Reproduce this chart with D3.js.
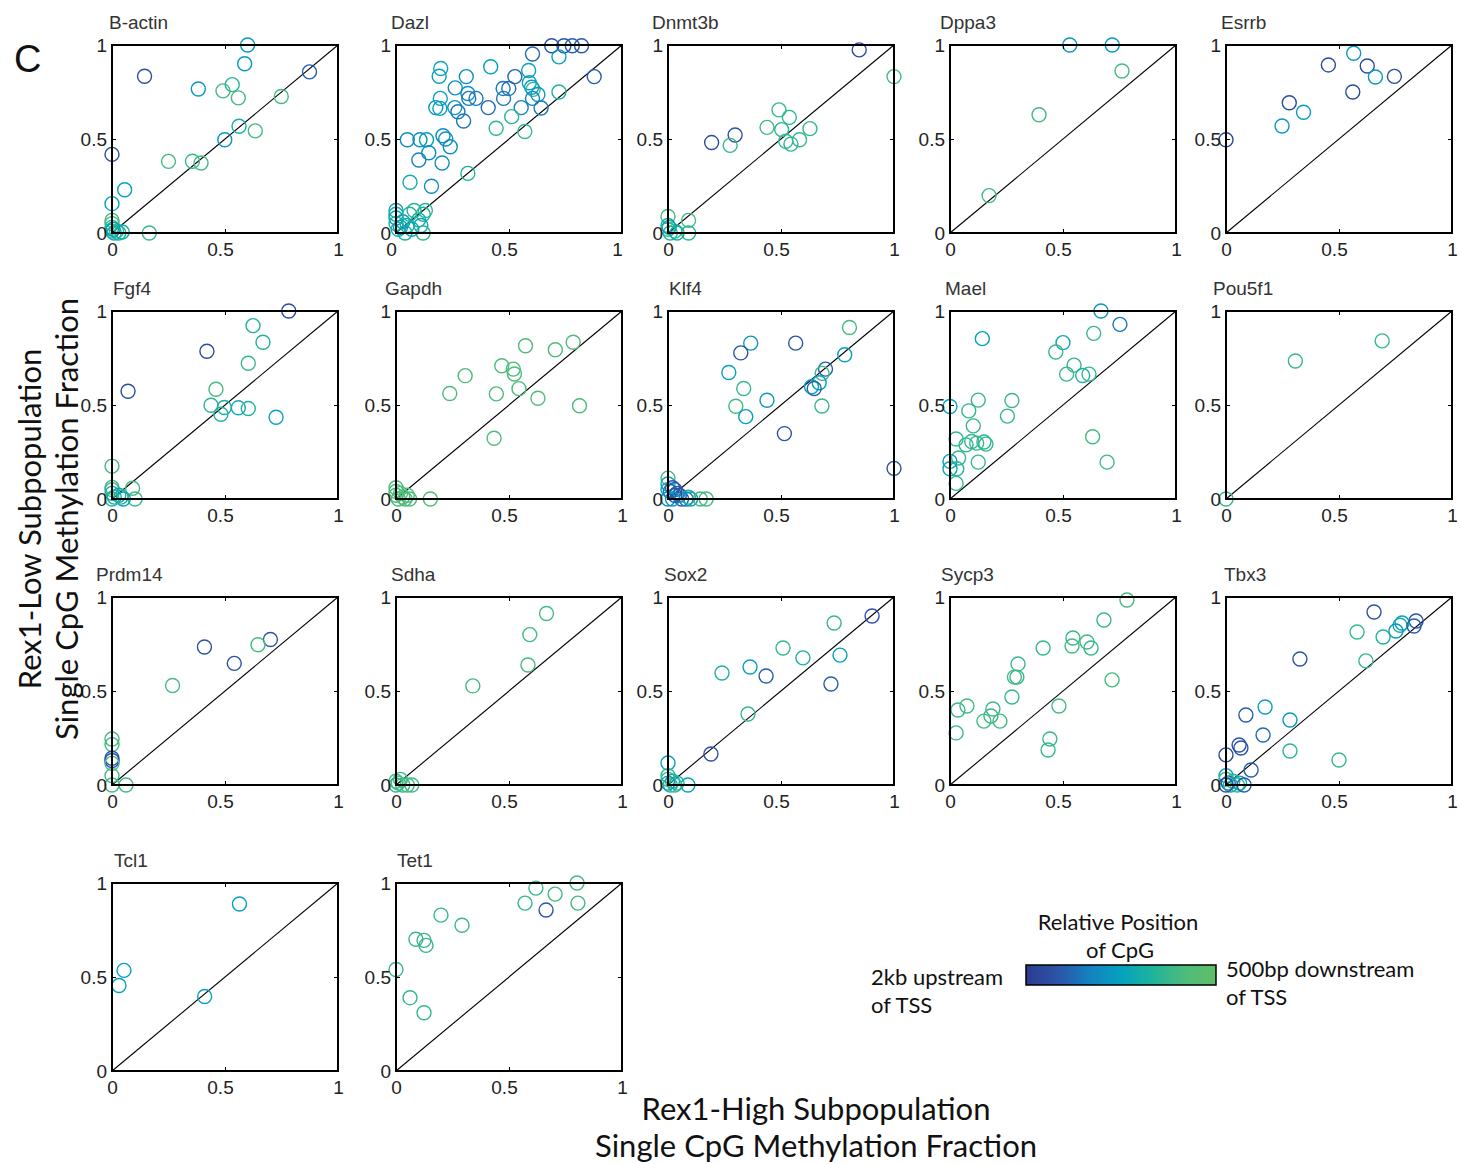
<!DOCTYPE html>
<html>
<head>
<meta charset="utf-8">
<script src="https://cdn.jsdelivr.net/npm/d3@7"></script>
<style>
  body { margin: 0; background: #fff; }
  svg text { font-family: "Liberation Sans", Arial, sans-serif; }
  .big { font-family: Lato, "Open Sans", sans-serif; }
</style>
</head>
<body>
<div id="main"></div>
<script>
// each point: [Rex1-high fraction, Rex1-low fraction, relative CpG position (0 = 2kb upstream, 1 = 500bp downstream)]
const bActin = [[0.60,1.00,0.45],[0.587,0.90,0.45],[0.144,0.834,0.1],[0.874,0.857,0.2],[0.382,0.766,0.45],[0.491,0.756,0.8],[0.532,0.789,0.7],[0.559,0.719,0.8],[0.749,0.726,0.8],[0.562,0.568,0.6],[0.634,0.543,0.8],[0.499,0.496,0.45],[0,0.418,0.1],[0.25,0.381,0.8],[0.356,0.382,0.75],[0.394,0.372,0.8],[0.056,0.23,0.5],[0,0.156,0.5],[0,0.067,0.8],[0,0.05,0.85],[0.165,0,0.75],[0,0.03,0.7],[0,0.01,0.6],[0.01,0,0.6],[0.02,0.01,0.7],[0.03,0,0.65],[0.045,0.005,0.6],[0.005,0.02,0.5]];
const dazl = [[0.689,0.996,0.15],[0.743,0.996,0.15],[0.78,0.996,0.2],[0.821,0.996,0.2],[0.721,0.937,0.5],[0.604,0.952,0.25],[0.419,0.884,0.5],[0.198,0.875,0.55],[0.191,0.834,0.5],[0.311,0.832,0.4],[0.526,0.832,0.2],[0.587,0.864,0.5],[0.59,0.799,0.5],[0.607,0.764,0.75],[0.6,0.775,0.5],[0.877,0.832,0.2],[0.721,0.75,0.65],[0.262,0.772,0.4],[0.474,0.769,0.3],[0.499,0.769,0.25],[0.476,0.716,0.3],[0.318,0.742,0.4],[0.322,0.716,0.3],[0.354,0.716,0.3],[0.604,0.716,0.35],[0.628,0.737,0.45],[0.196,0.716,0.5],[0.176,0.667,0.45],[0.194,0.663,0.5],[0.26,0.667,0.45],[0.274,0.645,0.3],[0.299,0.596,0.3],[0.408,0.667,0.25],[0.554,0.667,0.35],[0.642,0.665,0.3],[0.512,0.619,0.7],[0.443,0.557,0.7],[0.57,0.54,0.75],[0.05,0.496,0.4],[0.106,0.496,0.4],[0.135,0.496,0.5],[0.208,0.517,0.4],[0.22,0.5,0.4],[0.24,0.459,0.4],[0.145,0.427,0.4],[0.101,0.388,0.35],[0.204,0.372,0.4],[0.318,0.317,0.65],[0.062,0.27,0.6],[0.157,0.249,0.4],[0,0.12,0.55],[0,0.1,0.6],[0,0.08,0.5],[0,0.05,0.65],[0.01,0.02,0.6],[0.03,0.06,0.45],[0.05,0.04,0.6],[0.06,0.1,0.7],[0.08,0.12,0.65],[0.1,0.07,0.6],[0.12,0.1,0.65],[0.13,0.12,0.7],[0.11,0.04,0.55],[0.12,0,0.7],[0.04,0,0.6],[0.02,0.03,0.5],[0.07,0.02,0.55]];
const dnmt3b = [[0.846,0.974,0.1],[1.0,0.832,0.8],[0.491,0.655,0.75],[0.537,0.615,0.7],[0.438,0.562,0.8],[0.503,0.55,0.7],[0.628,0.555,0.75],[0.521,0.488,0.75],[0.544,0.473,0.7],[0.582,0.496,0.75],[0.297,0.521,0.15],[0.193,0.481,0.1],[0.275,0.466,0.75],[0,0.088,0.8],[0.091,0.067,0.8],[0.091,0,0.7],[0,0.04,0.6],[0,0.02,0.75],[0.01,0,0.7],[0.03,0.01,0.75],[0.04,0,0.6],[0.005,0.03,0.5]];
const dppa3 = [[0.53,1.0,0.45],[0.718,1.0,0.45],[0.761,0.862,0.8],[0.394,0.629,0.8],[0.173,0.199,0.8]];
const esrrb = [[0.565,0.956,0.45],[0.453,0.894,0.1],[0.625,0.888,0.1],[0.661,0.83,0.45],[0.745,0.833,0.1],[0.561,0.75,0.1],[0.28,0.693,0.1],[0.343,0.642,0.45],[0.248,0.569,0.45],[0,0.496,0.1]];
const fgf4 = [[0.782,1.0,0.1],[0.624,0.922,0.65],[0.668,0.834,0.65],[0.42,0.786,0.1],[0.603,0.722,0.75],[0.071,0.573,0.1],[0.46,0.584,0.8],[0.438,0.499,0.7],[0.497,0.487,0.6],[0.482,0.451,0.65],[0.559,0.485,0.6],[0.603,0.481,0.65],[0.726,0.435,0.5],[0,0.175,0.8],[0,0.062,0.8],[0,0.05,0.75],[0,0.03,0.6],[0.091,0.057,0.8],[0.102,0,0.8],[0.01,0.01,0.6],[0.03,0.02,0.55],[0.05,0,0.5],[0.04,0.01,0.65],[0,0,0.7]];
const gapdh = [[0.784,0.834,0.85],[0.705,0.794,0.85],[0.573,0.815,0.85],[0.468,0.709,0.85],[0.519,0.691,0.85],[0.524,0.665,0.85],[0.306,0.656,0.85],[0.238,0.561,0.85],[0.444,0.559,0.85],[0.544,0.587,0.85],[0.628,0.536,0.85],[0.812,0.496,0.85],[0.434,0.323,0.85],[0.152,0,0.85],[0,0.06,0.85],[0,0.04,0.85],[0,0.02,0.85],[0.01,0,0.85],[0.02,0.03,0.85],[0.03,0.01,0.85],[0.04,0,0.85],[0.05,0.02,0.85],[0.06,0,0.85]];
const klf4 = [[0.803,0.912,0.8],[0.366,0.829,0.45],[0.322,0.777,0.15],[0.565,0.829,0.15],[0.782,0.767,0.5],[0.269,0.673,0.5],[0.335,0.588,0.75],[0.3,0.493,0.8],[0.344,0.438,0.5],[0.438,0.525,0.45],[0.697,0.691,0.2],[0.682,0.668,0.75],[0.669,0.618,0.5],[0.635,0.597,0.5],[0.647,0.588,0.2],[0.681,0.495,0.75],[0.515,0.348,0.15],[1.0,0.163,0.15],[0,0.111,0.8],[0,0.08,0.55],[0,0.05,0.5],[0.01,0.04,0.3],[0.02,0.06,0.2],[0.03,0.05,0.15],[0.04,0.03,0.2],[0.05,0.02,0.15],[0.06,0,0.2],[0.08,0,0.3],[0.1,0,0.45],[0.09,0.01,0.6],[0.143,0,0.8],[0.169,0,0.8],[0.02,0,0.45],[0,0,0.4],[0.03,0.02,0.15]];
const mael = [[0.668,1.0,0.45],[0.752,0.929,0.3],[0.636,0.881,0.75],[0.143,0.853,0.5],[0.5,0.832,0.55],[0.468,0.782,0.75],[0.549,0.712,0.7],[0.516,0.664,0.75],[0.587,0.657,0.65],[0.615,0.664,0.75],[0,0.492,0.5],[0.125,0.526,0.75],[0.274,0.524,0.75],[0.083,0.469,0.75],[0.254,0.441,0.75],[0.103,0.389,0.75],[0.027,0.319,0.75],[0.071,0.288,0.7],[0.096,0.306,0.75],[0.118,0.297,0.75],[0.15,0.303,0.7],[0.159,0.292,0.75],[0.038,0.218,0.75],[0,0.2,0.5],[0.125,0.196,0.75],[0,0.161,0.55],[0.03,0.161,0.7],[0.027,0.083,0.75],[0.631,0.331,0.8],[0.695,0.196,0.8]];
const pou5f1 = [[0.691,0.841,0.75],[0.307,0.734,0.75],[0,0,0.75]];
const prdm14 = [[0.701,0.774,0.15],[0.646,0.746,0.8],[0.409,0.734,0.15],[0.541,0.647,0.15],[0.268,0.529,0.8],[0,0.245,0.8],[0,0.215,0.8],[0,0.142,0.15],[0,0.13,0.15],[0,0.115,0.8],[0,0.05,0.8],[0,0,0.8],[0.062,0,0.8]];
const sdha = [[0.666,0.912,0.8],[0.592,0.8,0.8],[0.584,0.638,0.8],[0.34,0.527,0.8],[0,0.02,0.8],[0.01,0.01,0.8],[0.02,0.03,0.75],[0.03,0,0.8],[0.05,0,0.8],[0.07,0,0.8],[0,0,0.75]];
const sox2 = [[0.903,0.899,0.15],[0.735,0.862,0.75],[0.509,0.729,0.75],[0.597,0.676,0.65],[0.761,0.691,0.5],[0.363,0.628,0.5],[0.434,0.58,0.2],[0.239,0.596,0.65],[0.721,0.537,0.2],[0.354,0.378,0.75],[0.19,0.165,0.15],[0,0.117,0.5],[0.088,0,0.5],[0,0.05,0.7],[0,0.03,0.75],[0.01,0,0.7],[0.02,0.02,0.6],[0.03,0,0.75],[0.04,0.01,0.65],[0,0.01,0.5]];
const sycp3 = [[0.783,0.984,0.8],[0.681,0.878,0.75],[0.544,0.782,0.75],[0.606,0.761,0.8],[0.624,0.729,0.75],[0.54,0.739,0.8],[0.412,0.729,0.75],[0.301,0.644,0.75],[0.296,0.574,0.75],[0.285,0.574,0.8],[0.274,0.468,0.75],[0.482,0.42,0.8],[0.717,0.559,0.8],[0.075,0.42,0.8],[0.035,0.399,0.75],[0.19,0.404,0.8],[0.181,0.367,0.75],[0.15,0.34,0.8],[0.221,0.34,0.8],[0.027,0.277,0.75],[0.442,0.245,0.75],[0.434,0.186,0.75]];
const tbx3 = [[0.655,0.92,0.15],[0.841,0.872,0.15],[0.779,0.862,0.5],[0.77,0.85,0.6],[0.832,0.846,0.2],[0.752,0.819,0.45],[0.58,0.814,0.75],[0.695,0.787,0.65],[0.619,0.66,0.75],[0.327,0.67,0.15],[0.173,0.415,0.5],[0.088,0.372,0.2],[0.283,0.346,0.45],[0.164,0.266,0.25],[0.058,0.213,0.15],[0.066,0.197,0.15],[0,0.16,0.1],[0.283,0.181,0.7],[0.5,0.133,0.75],[0.111,0.08,0.2],[0,0.05,0.5],[0,0.03,0.75],[0.01,0.01,0.2],[0.02,0,0.6],[0.03,0.02,0.7],[0.05,0,0.75],[0.06,0.01,0.5],[0.08,0,0.2],[0,0,0.15]];
const tcl1 = [[0.564,0.888,0.5],[0.053,0.535,0.5],[0.031,0.455,0.5],[0.41,0.396,0.5]];
const tet1 = [[0.801,1.0,0.8],[0.619,0.973,0.75],[0.704,0.941,0.8],[0.571,0.893,0.75],[0.664,0.856,0.15],[0.805,0.893,0.8],[0.199,0.829,0.75],[0.292,0.775,0.75],[0.088,0.701,0.75],[0.124,0.695,0.75],[0.133,0.668,0.75],[0,0.54,0.75],[0.062,0.39,0.75],[0.124,0.31,0.75]];

const geneNames = ["B-actin","Dazl","Dnmt3b","Dppa3","Esrrb","Fgf4","Gapdh","Klf4","Mael","Pou5f1","Prdm14","Sdha","Sox2","Sycp3","Tbx3","Tcl1","Tet1"];
const genePoints = [bActin,dazl,dnmt3b,dppa3,esrrb,fgf4,gapdh,klf4,mael,pou5f1,prdm14,sdha,sox2,sycp3,tbx3,tcl1,tet1];
const tickValues = [0, 0.5, 1];
const tickLabels = ["0", "0.5", "1"];
const colorStops = ["#2d3b8f","#2b54a8","#1580c0","#03a2bf","#1fb49c","#4cbc7b","#60bf67"];

// layout
const ctx = { width: 1460, height: 1164, pw: 226, ph: 188 };
const colLeft = [112, 396, 668, 950, 1226];
const rowTop = [45, 311, 597, 883];
const titleDx = [-3, 0, -16, -10, -5, 1, -11, 1, -5, -13, -16, -5, -4, -9, -2, 2, 1];

const svg = d3.select("#main").append("svg")
  .attr("width", ctx.width)
  .attr("height", ctx.height);

const x = d3.scaleLinear().domain([0, 1]).range([0, ctx.pw]);
const y = d3.scaleLinear().domain([0, 1]).range([ctx.ph, 0]);
const color = d3.scaleLinear()
  .domain(colorStops.map((d, i) => i / (colorStops.length - 1)))
  .range(colorStops);

svg.append("text").attr("x", 14).attr("y", 72)
  .style("font-size", "38px").style("fill", "#111").text("C");

geneNames.forEach(function (name, i) {
  const col = i % 5, row = Math.floor(i / 5);
  const g = svg.append("g")
    .attr("transform", "translate(" + colLeft[col] + "," + rowTop[row] + ")");

  g.append("text").attr("x", titleDx[i]).attr("y", -16)
    .style("font-size", "19px").style("fill", "#333").text(name);

  // diagonal
  g.append("line")
    .attr("x1", x(0)).attr("y1", y(0)).attr("x2", x(1)).attr("y2", y(1))
    .attr("stroke", "#000").attr("stroke-width", 1.1);

  g.selectAll("circle").data(genePoints[i]).enter().append("circle")
    .attr("cx", d => x(d[0]))
    .attr("cy", d => y(d[1]))
    .attr("r", 7)
    .attr("fill", "none")
    .attr("stroke", d => color(d[2]))
    .attr("stroke-width", 1.4);

  // axes, ticks inward and mirrored
  const fmt = (d, j) => tickLabels[j];
  const ax = [
    [d3.axisBottom(x), "translate(0," + ctx.ph + ")", true],
    [d3.axisLeft(y), null, true],
    [d3.axisTop(x), null, false],
    [d3.axisRight(y), "translate(" + ctx.pw + ",0)", false]
  ];
  ax.forEach(function (a) {
    const axis = a[0].tickValues(tickValues).tickSizeInner(-4).tickSizeOuter(0)
      .tickFormat(a[2] ? fmt : "");
    const ag = g.append("g").call(axis);
    if (a[1]) ag.attr("transform", a[1]);
    ag.select(".domain").remove();
    ag.selectAll("line").attr("stroke", "#000");
    ag.selectAll("text").style("font-size", "19px").style("fill", "#222")
      .style("font-family", "'Liberation Sans', Arial, sans-serif");
  });
  g.select("g").selectAll("text").attr("y", 10);
  g.selectAll("g:nth-of-type(2) text").attr("x", -5);

  g.append("rect")
    .attr("width", ctx.pw).attr("height", ctx.ph)
    .attr("fill", "none").attr("stroke", "#000").attr("stroke-width", 2);
});

// axis titles
svg.append("text").attr("class", "big")
  .attr("x", 816).attr("y", 1120).attr("text-anchor", "middle")
  .style("font-size", "31px").style("fill", "#111")
  .text("Rex1-High Subpopulation");
svg.append("text").attr("class", "big")
  .attr("x", 816).attr("y", 1157).attr("text-anchor", "middle")
  .style("font-size", "31px").style("fill", "#111")
  .text("Single CpG Methylation Fraction");
svg.append("text").attr("class", "big")
  .attr("transform", "translate(41,519) rotate(-90)")
  .attr("text-anchor", "middle")
  .style("font-size", "31px").style("fill", "#111")
  .text("Rex1-Low Subpopulation");
svg.append("text").attr("class", "big")
  .attr("transform", "translate(78,519) rotate(-90)")
  .attr("text-anchor", "middle")
  .style("font-size", "31px").style("fill", "#111")
  .text("Single CpG Methylation Fraction");

// colour legend
const defs = svg.append("defs");
const grad = defs.append("linearGradient").attr("id", "cbar");
colorStops.forEach(function (c, i) {
  grad.append("stop").attr("offset", (i / (colorStops.length - 1) * 100) + "%").attr("stop-color", c);
});
const lg = svg.append("g").attr("transform", "translate(1026,965)");
const cx = d3.scaleLinear().domain([0, 1]).range([0, 190]);
lg.append("rect").attr("x", cx(0)).attr("width", cx(1) - cx(0)).attr("height", 20)
  .attr("fill", "url(#cbar)").attr("stroke", "#000").attr("stroke-width", 1.5);

const legText = [
  ["Relative Position", 1118, 930, "middle"],
  ["of CpG", 1120, 958, "middle"],
  ["2kb upstream", 871, 985, "start"],
  ["of TSS", 871, 1013, "start"],
  ["500bp downstream", 1226, 977, "start"],
  ["of TSS", 1226, 1005, "start"]
];
legText.forEach(function (t) {
  svg.append("text").attr("class", "big")
    .attr("x", t[1]).attr("y", t[2]).attr("text-anchor", t[3])
    .style("font-size", "22px").style("fill", "#111").text(t[0]);
});
</script>
</body>
</html>
